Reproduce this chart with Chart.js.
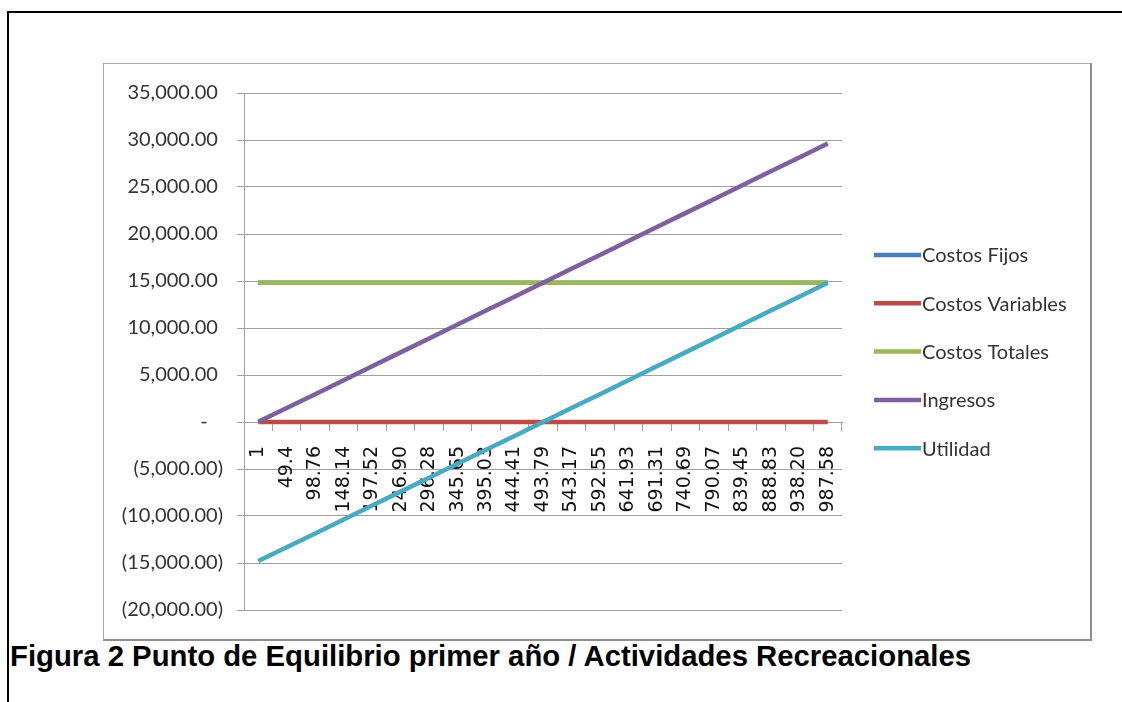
<!DOCTYPE html>
<html>
<head>
<meta charset="utf-8">
<title>Punto de Equilibrio primer año</title>
<script src="https://cdn.jsdelivr.net/npm/chart.js@4/dist/chart.umd.min.js"></script>
<style>
  html, body { margin: 0; padding: 0; background: #fff; }
  body { width: 1122px; height: 702px; position: relative; overflow: hidden; }
  #frameTop { position: absolute; left: 7px; top: 11px; width: 1115px; height: 2px; background: #000; }
  #frameLeft { position: absolute; left: 7px; top: 11px; width: 2px; height: 691px; background: #000; }
  #box { position: absolute; left: 103px; top: 63px; width: 989px; height: 578px; box-sizing: border-box;
         border-top: 1px solid #a8a8a8; border-left: 1px solid #a8a8a8;
         border-right: 2px solid #8e8e8e; border-bottom: 2px solid #8e8e8e; }
  #wrap { position: absolute; left: 104px; top: 64px; width: 986px; height: 575px; }
  #caption { position: absolute; left: 10px; top: 642px; margin: 0; white-space: nowrap;
             font-family: "Liberation Sans", Arial, sans-serif; font-weight: bold; font-size: 29.3px; line-height: 28px; color: #000; }
</style>
</head>
<body>
<div id="frameTop"></div>
<div id="frameLeft"></div>
<div id="box"></div>
<div id="wrap"><canvas id="chart" width="986" height="575"></canvas></div>
<p id="caption">Figura 2 Punto de Equilibrio primer año / Actividades Recreacionales</p>

<script>
// Unidades (eje horizontal)
const unidades = ['1', '49.4', '98.76', '148.14', '197.52', '246.90', '296.28', '345.65', '395.03', '444.41',
  '493.79', '543.17', '592.55', '641.93', '691.31', '740.69', '790.07', '839.45', '888.83', '938.20', '987.58'];

const costosFijos = [14813.7, 14813.7, 14813.7, 14813.7, 14813.7, 14813.7, 14813.7, 14813.7, 14813.7, 14813.7,
  14813.7, 14813.7, 14813.7, 14813.7, 14813.7, 14813.7, 14813.7, 14813.7, 14813.7, 14813.7, 14813.7];
const costosVariables = [0, 0, 0, 0, 0, 0, 0, 0, 0, 0, 0, 0, 0, 0, 0, 0, 0, 0, 0, 0, 0];
const costosTotales = [14813.7, 14813.7, 14813.7, 14813.7, 14813.7, 14813.7, 14813.7, 14813.7, 14813.7, 14813.7,
  14813.7, 14813.7, 14813.7, 14813.7, 14813.7, 14813.7, 14813.7, 14813.7, 14813.7, 14813.7, 14813.7];
const ingresos = [30, 1482, 2962.8, 4444.2, 5925.6, 7407, 8888.4, 10369.5, 11850.9, 13332.3,
  14813.7, 16295.1, 17776.5, 19257.9, 20739.3, 22220.7, 23702.1, 25183.5, 26664.9, 28146, 29627.4];
const utilidad = [-14783.7, -13331.7, -11850.9, -10369.5, -8888.1, -7406.7, -5925.3, -4444.2, -2962.8, -1481.4,
  0, 1481.4, 2962.8, 4444.2, 5925.6, 7407, 8888.4, 10369.8, 11851.2, 13332.3, 14813.7];

const seriesNames = ['Costos Fijos', 'Costos Variables', 'Costos Totales', 'Ingresos', 'Utilidad'];
const seriesColors = ['#4A7EBB', '#BE4B48', '#98B954', '#7D60A0', '#46AAC5'];

// Eje Y: -20,000 a 35,000 en pasos de 5,000
const yMin = -20000, yMax = 35000, yStep = 5000;

const gridColor = '#a0a0a0';
const textColor = '#333333';

function formatoContable(v) {
  if (v === 0) return '-   ';
  const s = Math.abs(v).toLocaleString('en-US', { minimumFractionDigits: 2, maximumFractionDigits: 2 });
  return v < 0 ? '(' + s + ')' : s + ' ';
}

// Leyenda dibujada a la derecha del área de trazado
const sideLegend = {
  id: 'sideLegend',
  afterDraw(chart) {
    const ctx = chart.ctx;
    ctx.save();
    ctx.font = '20px Lato, "Open Sans", sans-serif';
    ctx.textBaseline = 'middle';
    ctx.textAlign = 'left';
    chart.data.datasets.forEach((ds, i) => {
      const y = 191 + i * 48.3;
      ctx.strokeStyle = ds.borderColor;
      ctx.lineWidth = 4.5;
      ctx.lineCap = 'butt';
      ctx.beginPath();
      ctx.moveTo(770, y);
      ctx.lineTo(817, y);
      ctx.stroke();
      ctx.fillStyle = textColor;
      ctx.fillText(ds.label, 818, y + 1);
    });
    ctx.restore();
  }
};

const seriesData = [costosFijos, costosVariables, costosTotales, ingresos, utilidad];

new Chart(document.getElementById('chart'), {
  type: 'line',
  data: {
    labels: unidades,
    datasets: seriesData.map((d, i) => ({
      label: seriesNames[i],
      data: d,
      borderColor: seriesColors[i],
      backgroundColor: seriesColors[i],
      borderWidth: 4.5,
      pointRadius: 0,
      pointHoverRadius: 0,
      tension: 0,
      fill: false,
      order: seriesData.length - i
    }))
  },
  options: {
    responsive: false,
    animation: false,
    events: [],
    layout: { padding: { left: 0, right: 248, top: 29, bottom: 29 } },
    plugins: {
      legend: { display: false },
      tooltip: { enabled: false },
      title: { display: false }
    },
    scales: {
      x: {
        type: 'category',
        position: { y: 0 },
        offset: true,
        grid: { display: true, drawOnChartArea: false, drawTicks: true, tickLength: 8, offset: true, color: gridColor },
        border: { display: true, color: gridColor, width: 1 },
        ticks: {
          autoSkip: false,
          minRotation: 90,
          maxRotation: 90,
          padding: 16,
          color: '#111',
          font: { family: '"DejaVu Sans", Verdana, sans-serif', size: 19 }
        },
        afterFit(scale) { scale.height = 0; }
      },
      y: {
        min: yMin,
        max: yMax,
        grid: { color: gridColor, tickLength: 7, drawTicks: true },
        border: { display: true, color: gridColor, width: 1 },
        ticks: {
          stepSize: yStep,
          padding: 14,
          color: textColor,
          font: { family: 'Lato, "Open Sans", sans-serif', size: 20 },
          callback: (v) => formatoContable(v)
        },
        afterFit(scale) { scale.width = 140; }
      }
    }
  },
  plugins: [sideLegend]
});
</script>
</body>
</html>
